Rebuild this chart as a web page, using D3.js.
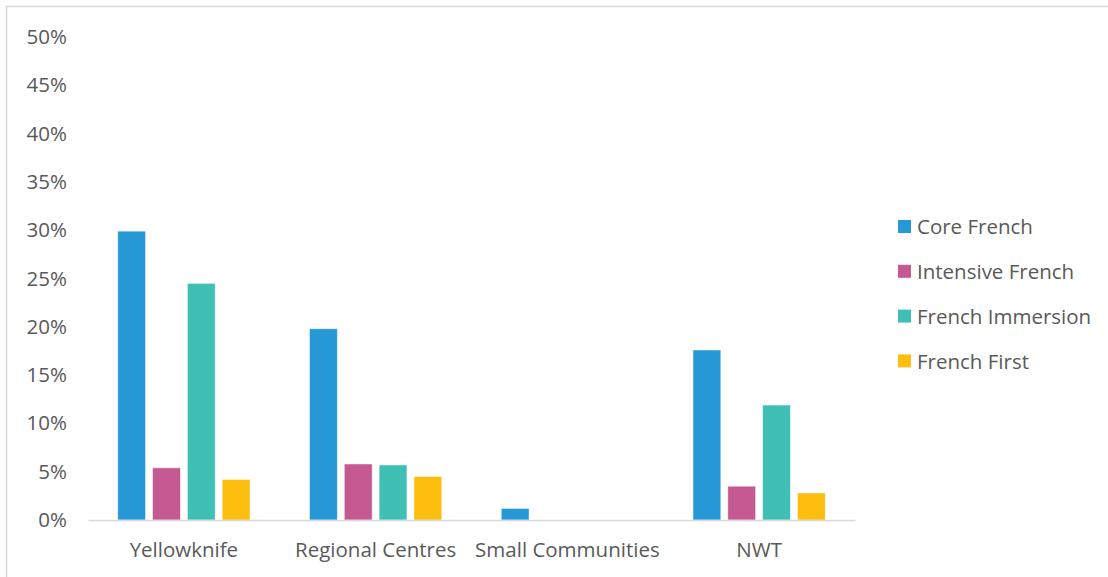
<!DOCTYPE html>
<html>
<head>
<meta charset="utf-8">
<script src="https://cdn.jsdelivr.net/npm/d3@7"></script>
<style>
  body { margin: 0; background: #fff; }
  text { font-family: "Open Sans", sans-serif; fill: #595959; }
</style>
</head>
<body>
<script>
'use strict';

// chart data
const categories = ["Yellowknife", "Regional Centres", "Small Communities", "NWT"];
const seriesNames = ["Core French", "Intensive French", "French Immersion", "French First"];
const coreFrench = [29.9, 19.8, 1.2, 17.6];
const intensiveFrench = [5.4, 5.8, 0, 3.5];
const frenchImmersion = [24.5, 5.7, 0, 11.9];
const frenchFirst = [4.2, 4.5, 0, 2.8];
const yTicks = [0, 5, 10, 15, 20, 25, 30, 35, 40, 45, 50];

const seriesValues = [coreFrench, intensiveFrench, frenchImmersion, frenchFirst];
const colors = ["#2798d6", "#c55a93", "#40bfb4", "#fdbe10"];

const width = 1108, height = 577;

let svg = d3.select("body").append("svg")
  .attr("width", width)
  .attr("height", height);

// light frame round the chart area
svg.append("rect")
  .attr("x", 6.5).attr("y", 6.5)
  .attr("width", width + 10).attr("height", height + 10)
  .attr("fill", "none")
  .attr("stroke", "#d9d9d9")
  .attr("stroke-width", 1.5);

// scales
let x0 = d3.scaleBand()
  .domain(categories)
  .range([88, 855])
  .paddingInner(0.31)
  .paddingOuter(0.155);

let x1 = d3.scaleBand()
  .domain(seriesNames)
  .range([0, x0.bandwidth()])
  .paddingInner(0.2);

let y = d3.scaleLinear()
  .domain([0, 50])
  .range([520, 37]);

// y tick labels (no axis line, no gridlines)
let yAxis = d3.axisLeft(y)
  .tickValues(yTicks)
  .tickSize(0)
  .tickPadding(0)
  .tickFormat(d => d + "%");
let yg = svg.append("g")
  .attr("transform", "translate(67, 0)")
  .call(yAxis);
yg.select(".domain").remove();
yg.selectAll("text")
  .style("font-size", "20.5px")
  .attr("fill", "#595959");

// bars
let rows = categories.map((c, i) => ({
  cat: c,
  vals: seriesNames.map((s, j) => ({ name: s, value: seriesValues[j][i], color: colors[j] }))
}));

let groups = svg.selectAll(".group")
  .data(rows)
  .enter().append("g")
  .attr("class", "group")
  .attr("transform", d => "translate(" + x0(d.cat) + ",0)");

groups.selectAll("rect")
  .data(d => d.vals.filter(v => v.value > 0))
  .enter().append("rect")
  .attr("x", d => x1(d.name))
  .attr("width", x1.bandwidth())
  .attr("y", d => y(d.value))
  .attr("height", d => y(0) - y(d.value))
  .attr("fill", d => d.color)
  .attr("stroke", "#ffffff")
  .attr("stroke-opacity", 0.6)
  .attr("stroke-width", 0.8);

// x axis
let xAxis = d3.axisBottom(x0)
  .tickSize(0)
  .tickPadding(22);
let xg = svg.append("g")
  .attr("transform", "translate(0," + y(0) + ")")
  .call(xAxis);
xg.select(".domain")
  .attr("stroke", "#d9d9d9")
  .attr("stroke-width", 1.5);
xg.selectAll("text")
  .style("font-size", "20.5px")
  .attr("fill", "#595959");

// legend
let legend = svg.selectAll(".legend")
  .data(seriesNames)
  .enter().append("g")
  .attr("class", "legend")
  .attr("transform", (d, i) => "translate(898," + (227 + i * 44.8) + ")");

legend.append("rect")
  .attr("x", 0)
  .attr("y", -7)
  .attr("width", 13)
  .attr("height", 13)
  .attr("fill", (d, i) => colors[i]);

legend.append("text")
  .attr("x", 19)
  .attr("y", 0)
  .attr("dy", "0.35em")
  .style("font-size", "20.5px")
  .text(d => d);
</script>
</body>
</html>
